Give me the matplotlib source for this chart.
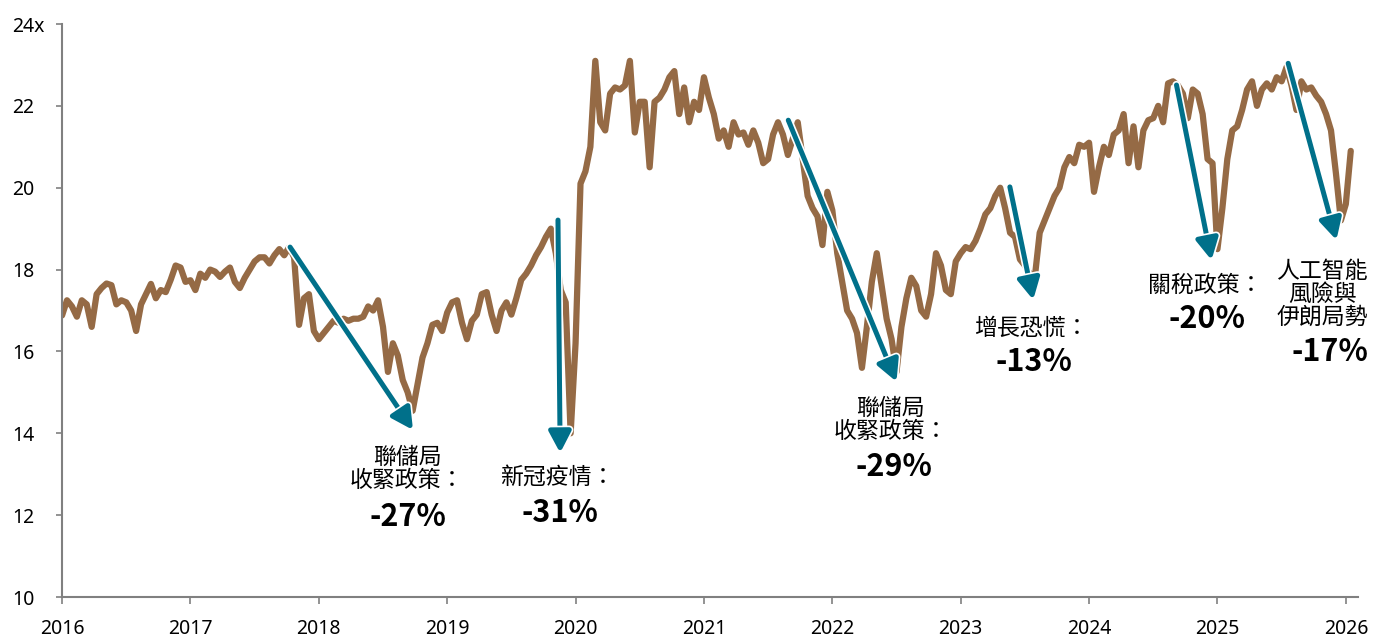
import numpy as np
import matplotlib
matplotlib.use('Agg')
import matplotlib.pyplot as plt
from matplotlib import patheffects

plt.rcParams['font.family'] = ['Noto Sans CJK TC', 'DejaVu Sans']

# 遠期市盈率，每兩週一點（2016年1月起）
pe_2016 = [16.88, 17.25, 17.1, 16.85, 17.25, 17.15, 16.6, 17.4, 17.55, 17.66, 17.62, 17.15, 17.25,
           17.2, 17.0, 16.5, 17.15, 17.4, 17.65, 17.3, 17.5, 17.45, 17.75, 18.1, 18.05, 17.7]
pe_2017 = [17.74, 17.5, 17.9, 17.8, 18.0, 17.95, 17.82, 17.95, 18.05, 17.7, 17.55, 17.8, 18.0,
           18.2, 18.3, 18.3, 18.15, 18.35, 18.5, 18.35, 18.55, 18.3, 16.65, 17.3, 17.4, 16.5]
pe_2018 = [16.3, 16.45, 16.6, 16.75, 16.7, 16.8, 16.75, 16.8, 16.8, 16.85, 17.1, 17.0, 17.25,
           16.6, 15.5, 16.2, 15.9, 15.3, 15.0, 14.55, 15.2, 15.85, 16.2, 16.65, 16.7, 16.5]
pe_2019 = [16.95, 17.2, 17.25, 16.7, 16.3, 16.75, 16.9, 17.4, 17.45, 16.9, 16.5, 17.0, 17.2,
           16.9, 17.3, 17.75, 17.9, 18.1, 18.35, 18.55, 18.8, 19.0, 18.4, 17.5, 17.2, 14.0]
pe_2020 = [16.2, 20.1, 20.4, 21.0, 23.1, 21.6, 21.4, 22.3, 22.45, 22.4, 22.5, 23.1, 21.35,
           22.1, 22.1, 20.5, 22.1, 22.2, 22.4, 22.7, 22.85, 21.8, 22.45, 21.6, 22.1, 21.9]
pe_2021 = [22.7, 22.2, 21.8, 21.2, 21.4, 21.0, 21.6, 21.3, 21.35, 21.05, 21.4, 21.1, 20.6,
           20.7, 21.3, 21.6, 21.3, 20.8, 21.2, 21.6, 20.7, 19.8, 19.5, 19.3, 18.6, 19.9]
pe_2022 = [19.45, 18.4, 17.7, 17.0, 16.8, 16.45, 15.6, 16.6, 17.7, 18.4, 17.6, 16.8, 16.3,
           15.5, 16.6, 17.3, 17.8, 17.6, 17.0, 16.85, 17.4, 18.4, 18.1, 17.5, 17.4, 18.2]
pe_2023 = [18.4, 18.55, 18.5, 18.7, 19.0, 19.35, 19.5, 19.8, 20.0, 19.5, 18.9, 18.8, 18.25,
           18.1, 17.9, 17.8, 18.9, 19.2, 19.5, 19.8, 20.0, 20.5, 20.75, 20.6, 21.05, 21.0]
pe_2024 = [21.1, 19.9, 20.5, 21.0, 20.8, 21.3, 21.4, 21.8, 20.6, 21.5, 20.5, 21.4, 21.65,
           21.7, 22.0, 21.6, 22.55, 22.6, 22.5, 22.3, 21.7, 22.4, 22.3, 21.8, 20.7, 20.6]
pe_2025 = [18.5, 19.5, 20.7, 21.4, 21.5, 21.9, 22.4, 22.6, 22.0, 22.4, 22.55, 22.4, 22.7,
           22.6, 22.95, 22.5, 21.9, 22.6, 22.4, 22.45, 22.25, 22.1, 21.8, 21.4, 20.35, 19.2]
pe_2026 = [19.6, 20.9]

# 各次調整
drop_labels = ['聯儲局\n收緊政策：', '新冠疫情：', '聯儲局\n收緊政策：',
               '增長恐慌：', '關稅政策：', '人工智能\n風險與\n伊朗局勢']
drop_pcts = [-27, -31, -29, -13, -20, -17]

y_ticks = [10, 12, 14, 16, 18, 20, 22, 24]
y_tick_labels = ['10', '12', '14', '16', '18', '20', '22', '24x']
years = list(range(2016, 2027))

BROWN = '#956A45'
TEAL = '#00708A'
GREY = '#808080'

pe = np.array(pe_2016 + pe_2017 + pe_2018 + pe_2019 + pe_2020 + pe_2021
              + pe_2022 + pe_2023 + pe_2024 + pe_2025 + pe_2026)
t = 2016 + np.arange(len(pe)) / 26

fig = plt.figure(figsize=(13.73, 6.39), dpi=100)
ax = fig.add_axes([0.0452, 0.0657, 0.9437, 0.8967])

ax.plot(t, pe, color=BROWN, lw=4.5, solid_joinstyle='round', solid_capstyle='round', zorder=2)

# 箭頭：起點 -> 終點
arrows = [
    (2017.776, 18.55, 2018.734, 14.08),
    (2019.863, 19.21, 2019.880, 13.52),
    (2021.657, 21.65, 2022.500, 15.26),
    (2023.383, 20.02, 2023.565, 17.26),
    (2024.681, 22.51, 2024.954, 18.23),
    (2025.551, 23.04, 2025.927, 18.72),
]
for x0, y0, x1, y1 in arrows:
    ax.annotate('', xy=(x1, y1), xytext=(x0, y0),
                arrowprops=dict(arrowstyle='-|>,head_length=0.8,head_width=0.42',
                                mutation_scale=16, color=TEAL, lw=3.6,
                                shrinkA=0, shrinkB=0,
                                path_effects=[patheffects.withStroke(linewidth=6, foreground='white')]),
                zorder=3)

# 文字位置（中文說明、百分比）
label_pos = [(2018.687, 13.13), (2019.855, 12.93), (2022.456, 14.32),
             (2023.547, 16.57), (2024.902, 17.62), (2025.815, 17.40)]
pct_pos = [(2018.695, 11.95), (2019.879, 12.05), (2022.480, 13.18),
           (2023.570, 15.74), (2024.918, 16.79), (2025.875, 15.99)]
for lab, pct, (lx, ly), (px, py) in zip(drop_labels, drop_pcts, label_pos, pct_pos):
    ax.text(lx, ly, lab, ha='center', va='center', fontsize=16.5,
            linespacing=1.0, multialignment='center', clip_on=False, zorder=4)
    ax.text(px, py, f'{pct}%', ha='center', va='center', fontsize=22,
            fontweight='bold', clip_on=False, zorder=4)

ax.set_xlim(2016, 2026.093)
ax.set_ylim(10, 24)
ax.set_xticks(years)
ax.set_xticklabels([str(y) for y in years], family=['Noto Sans', 'DejaVu Sans'])
ax.set_yticks(y_ticks)
ax.set_yticklabels(y_tick_labels, ha='left', family=['Noto Sans', 'DejaVu Sans'])

for s in ['top', 'right']:
    ax.spines[s].set_visible(False)
for s in ['left', 'bottom']:
    ax.spines[s].set_color(GREY)
    ax.spines[s].set_linewidth(1.5)

ax.tick_params(axis='y', direction='out', length=4, width=1.2, color=GREY,
               labelsize=14, pad=32)
ax.tick_params(axis='x', direction='out', length=5, width=1.2, color=GREY,
               labelsize=14, pad=11)

fig.savefig('out.png', dpi=100)
